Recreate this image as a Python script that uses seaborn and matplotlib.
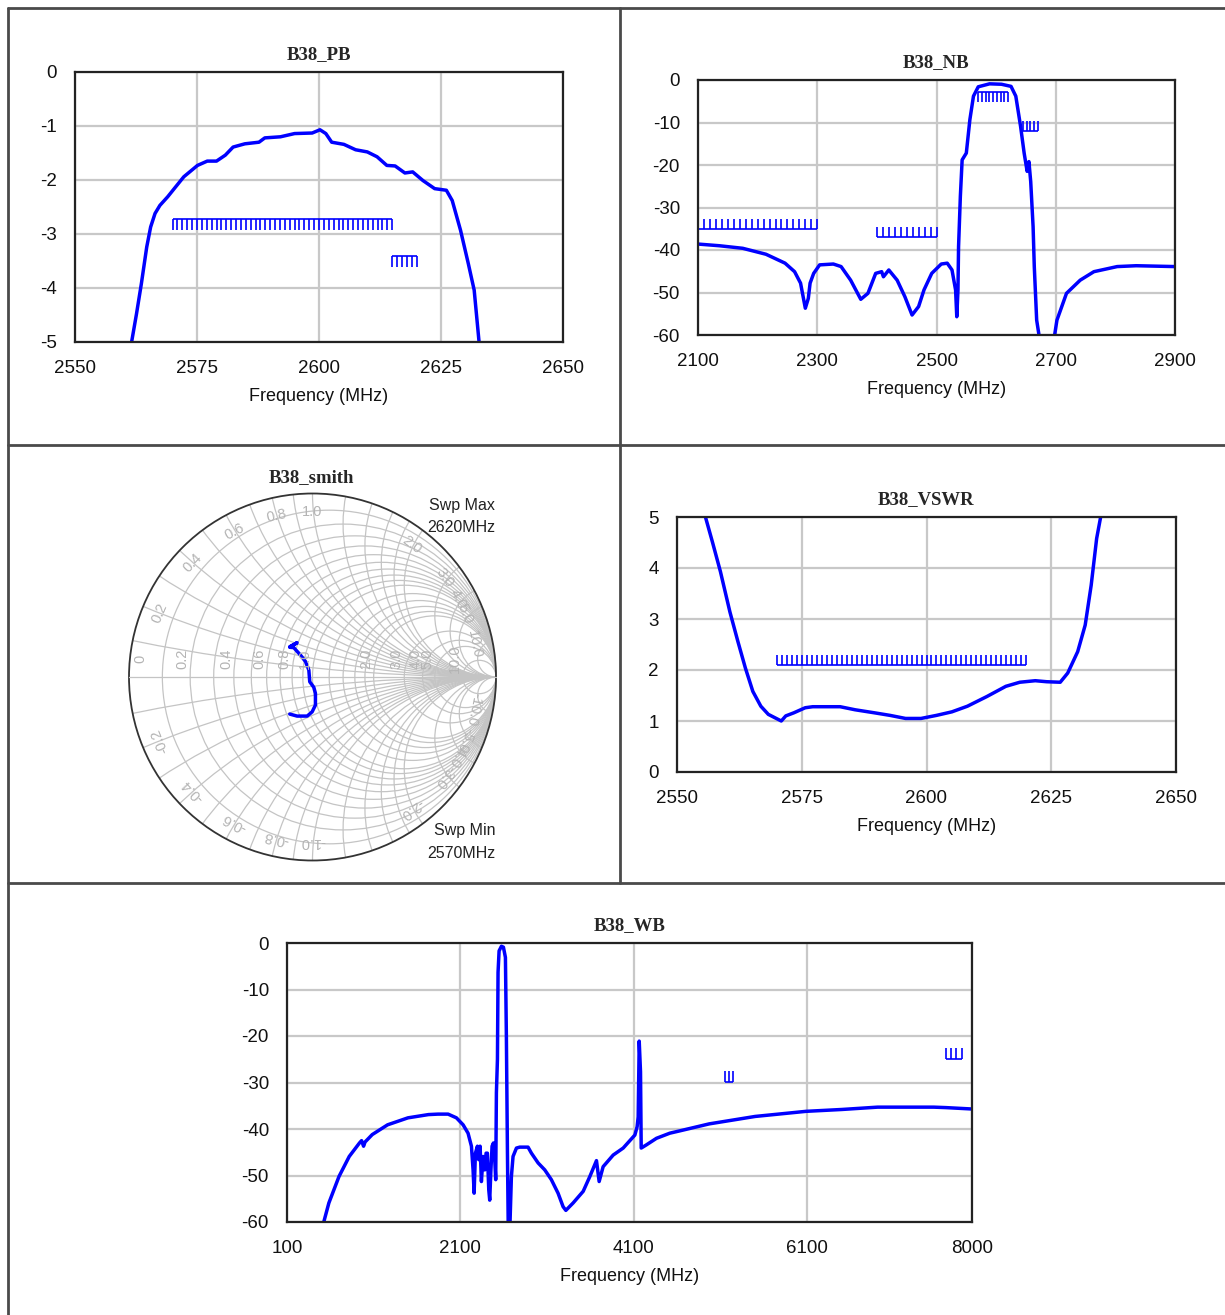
import numpy as np
import matplotlib
matplotlib.use("Agg")
import matplotlib.pyplot as plt
from matplotlib.lines import Line2D
from matplotlib.patches import Circle
import seaborn as sns

# ---- B38_PB (dB) ----
pb_freq = [2561.3, 2561.6, 2562.6, 2563.6, 2564.7, 2565.5, 2566.4, 2567.4, 2569.0, 2570.6, 2572.3,
           2575.1, 2577.1, 2579.0, 2580.8, 2582.4, 2584.8, 2587.7, 2588.9, 2592.1, 2595.0, 2598.6,
           2600.2, 2601.4, 2602.6, 2605.1, 2607.5, 2609.9, 2611.9, 2613.9, 2615.6, 2617.6, 2619.2,
           2621.3, 2623.7, 2626.1, 2627.3, 2629.0, 2630.6, 2631.8, 2632.8, 2633.0]
pb_db = [-5.3, -5.0, -4.48, -3.92, -3.24, -2.87, -2.62, -2.47, -2.31, -2.13, -1.94,
         -1.73, -1.65, -1.65, -1.54, -1.39, -1.33, -1.30, -1.22, -1.20, -1.14, -1.13,
         -1.07, -1.14, -1.30, -1.34, -1.44, -1.48, -1.57, -1.73, -1.74, -1.87, -1.85,
         -2.01, -2.16, -2.19, -2.38, -2.93, -3.55, -4.04, -5.0, -5.3]
pb_specs = [(2570, 2615, -2.73, "min", 1.0), (2615, 2620, -3.41, "min", 1.0)]

# ---- B38_NB (dB) ----
nb_freq = [2100, 2136, 2175, 2214, 2246, 2262, 2272, 2280, 2285, 2288, 2294, 2304, 2327, 2340,
           2356, 2373, 2385, 2398, 2408, 2411, 2420, 2434, 2447, 2459, 2470, 2479, 2492, 2508,
           2518, 2526, 2532, 2534, 2536, 2537, 2540, 2543, 2550, 2556, 2562, 2570, 2589, 2609,
           2625, 2633, 2641, 2647, 2652, 2655, 2658, 2662, 2664, 2668, 2673, 2685, 2697, 2702,
           2718, 2741, 2764, 2803, 2835, 2900]
nb_db = [-38.6, -39.0, -39.6, -41.0, -43.1, -45.1, -47.8, -53.7, -51.4, -47.8, -45.5, -43.5, -43.3,
         -43.9, -47.1, -51.6, -50.2, -45.5, -45.1, -46.3, -44.7, -47.1, -51.0, -55.3, -53.3, -49.4,
         -45.5, -43.3, -43.1, -44.7, -49.4, -55.7, -49.4, -39.2, -27.4, -18.8, -17.2, -9.3, -3.8,
         -1.6, -0.9, -1.0, -1.5, -3.8, -10.9, -17.2, -21.5, -19.2, -23.9, -34.5, -43.9, -56.5,
         -61.0, -70.0, -61.0, -56.5, -50.2, -47.1, -45.1, -43.9, -43.7, -43.9]
nb_specs = [(2100, 2300, -35.1, "max", 10.0), (2400, 2500, -37.0, "max", 10.0),
            (2570, 2620, -2.75, "min", 6.25), (2645, 2670, -12.0, "max", 6.25)]

# ---- B38_VSWR ----
vswr_freq = [2555.5, 2555.7, 2557.1, 2558.7, 2560.6, 2562.2, 2563.7, 2565.2, 2566.8, 2568.3, 2569.9,
             2570.9, 2571.8, 2573.4, 2575.7, 2577.2, 2582.7, 2585.7, 2589.6, 2592.7, 2595.8,
             2598.9, 2602.0, 2605.1, 2608.2, 2612.1, 2615.9, 2618.7, 2621.8, 2624.1, 2626.8,
             2628.3, 2630.3, 2631.8, 2633.0, 2634.1, 2634.9, 2635.1]
vswr_val = [5.2, 5.0, 4.51, 3.93, 3.14, 2.56, 2.04, 1.58, 1.29, 1.13, 1.05, 1.00, 1.10, 1.16, 1.26,
            1.28, 1.28, 1.22, 1.16, 1.11, 1.05, 1.05, 1.11, 1.18, 1.29, 1.48, 1.68, 1.76, 1.79,
            1.77, 1.76, 1.94, 2.36, 2.88, 3.66, 4.58, 5.0, 5.2]
vswr_specs = [(2570, 2620, 2.1, "max", 1.0)]

# ---- B38_WB (dB) ----
wb_freq = [500, 524, 583, 700, 818, 936, 960, 983, 1000, 1083, 1260, 1495, 1731, 1842, 1958, 2054,
           2131, 2188, 2227, 2246, 2258, 2273, 2296, 2311, 2327, 2342, 2361, 2381, 2396, 2411,
           2427, 2438, 2450, 2465, 2481, 2496, 2507, 2515, 2527, 2534, 2546, 2573, 2596, 2619,
           2630, 2642, 2652, 2669, 2688, 2707, 2746, 2784, 2880, 2919, 2996, 3073, 3149, 3226,
           3284, 3316, 3400, 3516, 3593, 3669, 3700, 3746, 3862, 3977, 4112, 4138, 4150, 4162,
           4177, 4185, 4246, 4361, 4515, 4630, 4969, 5499, 6087, 6500, 6911, 7559, 7700, 8000]
wb_db = [-62.0, -60.0, -55.9, -50.2, -45.9, -43.0, -42.5, -43.7, -42.8, -41.2, -39.1, -37.6, -36.9,
         -36.8, -36.8, -37.6, -39.1, -40.9, -43.7, -48.8, -53.8, -45.2, -43.7, -46.6, -43.7, -51.3,
         -45.9, -48.8, -45.2, -45.2, -53.1, -55.3, -49.5, -43.7, -43.0, -46.6, -50.9, -32.2, -25.0,
         -6.3, -1.7, -0.7, -0.9, -3.1, -20.0, -44.5, -62.0, -62.0, -50.2, -45.9, -44.1, -43.9,
         -43.9, -45.2, -47.3, -48.8, -50.9, -53.8, -56.7, -57.5, -55.9, -53.4, -50.2, -46.8, -51.3,
         -48.1, -45.6, -44.1, -41.3, -39.5, -37.4, -21.1, -27.7, -44.1, -43.4, -42.0, -40.9, -40.4,
         -38.9, -37.3, -36.2, -35.8, -35.3, -35.3, -35.4, -35.7]
wb_specs = [(5150, 5240, -29.9, "max", 45.0), (7700, 7880, -24.9, "max", 60.0)]

# ---- B38_smith (reflection coefficient) ----
smith_re = [-0.124, -0.084, -0.124, -0.102, -0.066, -0.038, -0.020, -0.015, 0.007, 0.016, 0.016,
            -0.002, -0.029, -0.084, -0.124]
smith_im = [0.165, 0.187, 0.162, 0.160, 0.120, 0.084, 0.038, -0.026, -0.056, -0.089, -0.153,
            -0.190, -0.213, -0.213, -0.202]
smith_r = [0.1, 0.2, 0.3, 0.4, 0.5, 0.6, 0.7, 0.8, 0.9, 1.0, 1.2, 1.4, 1.6, 1.8, 2.0, 3.0, 4.0,
           5.0, 10.0]
smith_x = [0.1, 0.2, 0.3, 0.4, 0.5, 0.6, 0.7, 0.8, 0.9, 1.0, 1.2, 1.4, 1.6, 1.8, 2.0, 3.0, 4.0,
           5.0, 10.0]
r_labels = [0, 0.2, 0.4, 0.6, 0.8, 1.0, 2.0, 3.0, 4.0, 5.0, 10.0]
x_labels = [0.2, 0.4, 0.6, 0.8, 1.0, 2.0, 3.0, 4.0, 5.0, 10.0]

sns.set_style("white")
plt.rcParams["font.family"] = ["Liberation Sans", "DejaVu Sans"]
plt.rcParams["axes.unicode_minus"] = False

W, H = 1225, 1315
fig = plt.figure(figsize=(W / 100, H / 100), dpi=100, facecolor="white")


def px_axes(left, top, right, bottom):
    return fig.add_axes([left / W, 1 - bottom / H, (right - left) / W, (bottom - top) / H])


def style(ax, title, xlim, ylim, xticks, yticks):
    ax.set_xlim(xlim)
    ax.set_ylim(ylim)
    ax.set_xticks(xticks)
    ax.set_yticks(yticks)
    ax.grid(True, color="#c8c8c8", lw=1.6)
    ax.set_axisbelow(True)
    for s in ax.spines.values():
        s.set_color("#222222")
        s.set_linewidth(1.6)
        s.set_visible(True)
    ax.tick_params(length=0, labelsize=13.5, colors="#111111")
    ax.tick_params(axis="x", pad=13)
    ax.tick_params(axis="y", pad=13)
    ax.set_title(title, family="Liberation Serif", fontweight="bold", fontsize=13.5, pad=9)
    ax.set_xlabel("Frequency (MHz)", fontsize=13, labelpad=8, color="#111111")
    ax.set_ylabel("")


def draw_specs(ax, specs):
    lo, hi = ax.get_ylim()
    tick = 0.04 * (hi - lo)
    for f0, f1, lvl, kind, step in specs:
        sign = -1 if kind == "min" else 1
        ax.hlines(lvl, f0, f1, color="blue", lw=1.2)
        ticks = np.arange(f0, f1 + step * 0.01, step)
        ax.vlines(ticks, lvl, lvl + sign * tick, color="blue", lw=1.2)


def curve(ax, x, y):
    sns.lineplot(x=x, y=y, ax=ax, sort=False, estimator=None, color="blue", lw=2.5)


# PB
ax = px_axes(75, 72, 563, 342)
curve(ax, pb_freq, pb_db)
style(ax, "B38_PB", (2550, 2650), (-5, 0), [2550, 2575, 2600, 2625, 2650], range(-5, 1))
draw_specs(ax, pb_specs)

# NB
ax = px_axes(698, 80, 1175, 335)
curve(ax, nb_freq, nb_db)
style(ax, "B38_NB", (2100, 2900), (-60, 0), [2100, 2300, 2500, 2700, 2900], range(-60, 1, 10))
draw_specs(ax, nb_specs)

# VSWR
ax = px_axes(677, 517, 1176, 772)
curve(ax, vswr_freq, vswr_val)
style(ax, "B38_VSWR", (2550, 2650), (0, 5), [2550, 2575, 2600, 2625, 2650], range(0, 6))
draw_specs(ax, vswr_specs)

# WB
ax = px_axes(287, 943, 972, 1222)
curve(ax, wb_freq, wb_db)
style(ax, "B38_WB", (100, 8000), (-60, 0), [100, 2100, 4100, 6100, 8000], range(-60, 1, 10))
draw_specs(ax, wb_specs)

# Smith chart
cx, cy, rad = 312.5, 677, 183.5
m = 1.09
ax = px_axes(cx - rad * m, cy - rad * m, cx + rad * m, cy + rad * m)
ax.set_xlim(-m, m)
ax.set_ylim(-m, m)
ax.axis("off")
unit = Circle((0, 0), 1, transform=ax.transData, fill=False)
grid_kw = dict(fill=False, ec="#c4c4c4", lw=0.9)
for r in smith_r:
    ax.add_patch(Circle((r / (1 + r), 0), 1 / (1 + r), **grid_kw))
for x in smith_x:
    for s in (1, -1):
        c = Circle((1, s / x), 1 / x, **grid_kw)
        ax.add_patch(c)
        c.set_clip_path(unit)
ax.plot([-1, 1], [0, 0], color="#c4c4c4", lw=0.9)
ax.add_patch(Circle((0, 0), 1, fill=False, ec="#333333", lw=1.3))
lab_kw = dict(color="#b4b4b4", fontsize=10.5, ha="center", va="center")
for r in r_labels:
    g = (r - 1) / (r + 1)
    ax.text(g - 0.04 + (0.1 if r == 0 else 0), 0.1, f"{r:.1f}" if r else "0", rotation=90, **lab_kw)
for x in x_labels:
    for s in (1, -1):
        th = np.arctan2(2 * s * x / (x * x + 1), (x * x - 1) / (x * x + 1))
        ax.text(0.9 * np.cos(th), 0.9 * np.sin(th), f"{s * x:.1f}",
                rotation=np.degrees(th) - 90, **lab_kw)
sns.lineplot(x=smith_re, y=smith_im, ax=ax, sort=False, estimator=None, color="blue", lw=2.5)
ax.set_xlabel("")
ax.set_ylabel("")
fig.text(311 / W, 1 - 478 / H, "B38_smith", family="Liberation Serif", fontweight="bold",
         fontsize=13.5, ha="center", va="center")
for y, t in [(505, "Swp Max"), (527, "2620MHz"), (831, "Swp Min"), (854, "2570MHz")]:
    fig.text(495 / W, 1 - y / H, t, fontsize=11.5, ha="right", va="center", color="#222222")

# table frame
line_kw = dict(color="#4a4a4a", lw=2, transform=fig.transFigure)
for (x0, y0, x1, y1) in [(8, 8, 8, 1315), (8, 8, 1225, 8), (620, 8, 620, 883),
                         (8, 445, 1225, 445), (8, 883, 1225, 883)]:
    fig.add_artist(Line2D([x0 / W, x1 / W], [1 - y0 / H, 1 - y1 / H], **line_kw))

fig.savefig("out.png", dpi=100, facecolor="white")
